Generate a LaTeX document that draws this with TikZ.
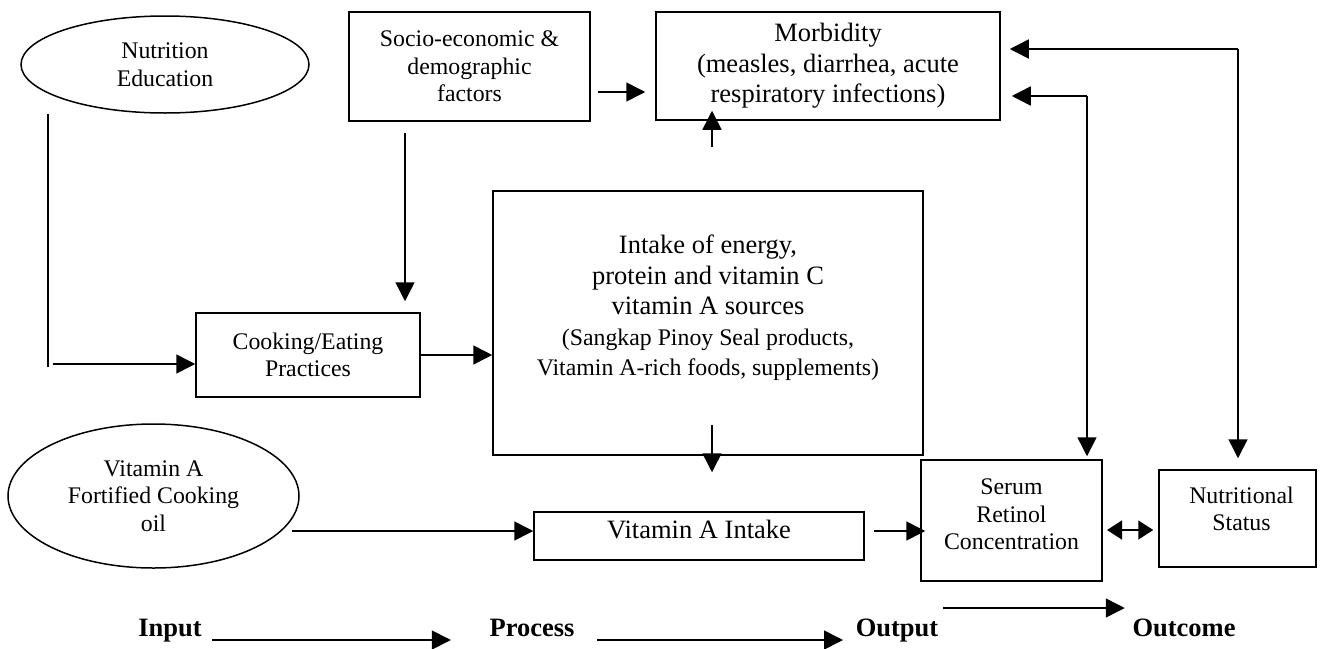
\documentclass[tikz,border=0pt]{standalone}
\usepackage{fontspec}
\setmainfont{Liberation Serif}
\usetikzlibrary{shapes.geometric,arrows.meta}
\newcommand{\bigsz}{\fontsize{26.5}{30.5}\selectfont}
\newcommand{\smallsz}{\fontsize{23.8}{27.6}\selectfont}

\begin{document}
\begin{tikzpicture}[x=1pt,y=-1pt,line width=1.5pt,
  box/.style={draw,inner sep=0pt,align=center},
  oval/.style={draw,ellipse,inner sep=0pt,align=center,font=\smallsz},
  arr/.style={-{Triangle[length=19pt,width=19pt]}},
  dbl/.style={{Triangle[length=15pt,width=19pt]}-{Triangle[length=15pt,width=19pt]}},
  lbl/.style={inner sep=0pt,anchor=base,font=\bigsz\bfseries}]
  \useasboundingbox (0,0) rectangle (1325,648);
  % Inputs
  \node[oval,minimum width=288pt,minimum height=97pt] (nutri) at (165,64.5) {Nutrition\\Education};
  \node[oval,minimum width=291pt,minimum height=144pt] (oil) at (153.5,496) {Vitamin A\\Fortified Cooking\\oil};
  % Process
  \node[box,font=\smallsz,minimum width=241pt,minimum height=109pt] (socio) at (469.5,66.5) {Socio-economic \&\\demographic\\factors};
  \node[box,font=\smallsz,minimum width=224pt,minimum height=84pt] (cook) at (308,355) {Cooking/Eating\\Practices};
  \node[box,minimum width=430pt,minimum height=264pt] (intake) at (708,323) {};
  \node[align=center,font=\bigsz] (intaketxt) at ([yshift=15pt]intake.center)
    {Intake of energy,\\protein and vitamin C\\vitamin A sources\\{\smallsz (Sangkap Pinoy Seal products,}\\{\smallsz Vitamin A-rich foods, supplements)}};
  % Output
  \node[box,minimum width=330pt,minimum height=48pt] (vai) at (699,536) {};
  \node[inner sep=0pt,font=\bigsz] (vaitxt) at ([yshift=7pt]vai.center) {Vitamin A Intake};
  \node[box,font=\bigsz,minimum width=344pt,minimum height=108pt] (morb) at (828,66) {Morbidity\\(measles, diarrhea, acute\\respiratory infections)};
  \node[box,minimum width=181pt,minimum height=121pt] (serum) at (1011.5,520.5) {};
  \node[align=center,font=\smallsz] (serumtxt) at ([yshift=6pt]serum.center) {Serum\\Retinol\\Concentration};
  % Outcome
  \node[box,minimum width=157pt,minimum height=97pt] (nutr) at (1237.5,518.5) {};
  \node[align=center,font=\smallsz] (nutrtxt) at ([xshift=4pt,yshift=9.5pt]nutr.center) {Nutritional\\Status};

  % links
  \coordinate (ne) at (48,367);
  \draw (nutri.south -| ne) -- (ne);
  \draw[arr] ([xshift=5pt,yshift=3pt]ne) -- ([yshift=-9pt]cook.west);
  \coordinate (sd) at (405,133);
  \draw[arr,shorten >=11pt] (sd) -- (sd |- cook.north);
  \coordinate (sm) at (598,92);
  \draw[arr,shorten >=10pt] (sm) -- (sm -| morb.west);
  \draw[arr] (cook.east) -- (cook.east -| intake.west);
  \coordinate (up) at (712,147);
  \draw[arr,shorten >=-10pt] (up) -- (up |- morb.south);
  \coordinate (dn) at (712,425);
  \draw[arr,shorten >=39pt] (dn) -- (dn |- vai.north);
  \coordinate (oo) at (292,531);
  \draw[arr] (oo) -- (oo -| vai.west);
  \coordinate (vs) at (874,531);
  \draw[arr,shorten >=-5pt] (vs) -- (vs -| serum.west);
  \coordinate (sn) at (1107,530);
  \draw[dbl,shorten >=5pt] (sn) -- (sn -| nutr.west);
  % feedback to morbidity
  \coordinate (r1) at (1238,49);
  \draw[arr,shorten >=9pt] (r1) -- (r1 -| morb.east);
  \draw[arr,shorten >=11pt] (r1) -- (r1 |- nutr.north);
  \coordinate (r2) at (1087,96);
  \draw[arr,shorten >=11pt] (r2) -- (r2 -| morb.east);
  \draw[arr,shorten >=3pt] (r2) -- (r2 |- serum.north);

  % stages
  \node[lbl] (in) at (170,636) {Input};
  \node[lbl] (proc) at (532,636) {Process};
  \node[lbl] (outp) at (897,636) {Output};
  \node[lbl] (outc) at (1184,636) {Outcome};
  \draw[arr] ([xshift=10pt,yshift=-4pt]in.base east) -- ([xshift=-38pt,yshift=-4pt]proc.base west);
  \draw[arr] ([xshift=22pt,yshift=-4pt]proc.base east) -- ([xshift=-12pt,yshift=-4pt]outp.base west);
  \draw[arr] ([xshift=4pt,yshift=28pt]outp.base east) -- ([xshift=-7pt,yshift=28pt]outc.base west);
\end{tikzpicture}
\end{document}
